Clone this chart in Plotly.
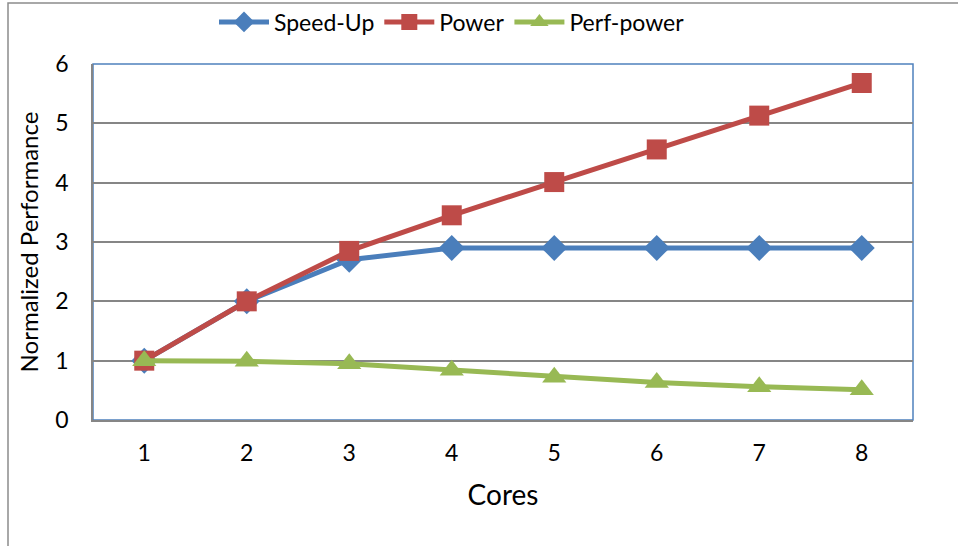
import plotly.graph_objects as go

cores = [1, 2, 3, 4, 5, 6, 7, 8]
speed_up = [1.0, 2.0, 2.7, 2.9, 2.9, 2.9, 2.9, 2.9]
power = [1.0, 2.0, 2.85, 3.45, 4.01, 4.56, 5.13, 5.68]
perf_power = [1.0, 0.99, 0.95, 0.84, 0.72, 0.63, 0.56, 0.51]
y_ticks = [0, 1, 2, 3, 4, 5, 6]

W, H = 958, 546
L, R, T, B = 93, 45, 64, 126
PW, PH = W - L - R, H - T - B

FONT = "Lato, Open Sans, sans-serif"

fig = go.Figure()
fig.add_trace(go.Scatter(
    x=cores, y=speed_up, name="Speed-Up", mode="lines+markers",
    line=dict(color="#4A7EBB", width=5),
    marker=dict(symbol="diamond", size=20, color="#4A7EBB"),
))
fig.add_trace(go.Scatter(
    x=cores, y=power, name="Power", mode="lines+markers",
    line=dict(color="#BE4B48", width=5),
    marker=dict(symbol="square", size=20, color="#BE4B48"),
))
fig.add_trace(go.Scatter(
    x=cores, y=perf_power, name="Perf-power", mode="lines+markers",
    line=dict(color="#98B954", width=5),
    marker=dict(symbol="triangle-up", size=21, color="#98B954"),
))

# plot-area frame (blue) drawn under the gray axis lines
fig.add_shape(type="rect", xref="paper", yref="paper", x0=0, y0=0, x1=1, y1=1,
              line=dict(color="#4F81BD", width=1.5), layer="below")
# outer chart frame (partly outside the visible area)
fig.add_shape(type="rect", xref="paper", yref="paper",
              x0=(8 - L) / PW, y0=-0.6, x1=1.3, y1=1 + (T - 3) / PH,
              line=dict(color="#8C8C8C", width=1.5), layer="below")

fig.update_layout(
    width=W, height=H,
    margin=dict(l=L, r=R, t=T, b=B, autoexpand=False),
    paper_bgcolor="white", plot_bgcolor="white",
    font=dict(family=FONT, size=23, color="black"),
    showlegend=True,
    legend=dict(orientation="h", x=(452 - L) / PW, xanchor="center",
                y=1 + (T - 22) / PH, yanchor="middle", font=dict(size=23),
                itemwidth=50, tracegroupgap=0, bgcolor="rgba(0,0,0,0)"),
    xaxis=dict(
        range=[0.5, 8.5], tickmode="array", tickvals=cores,
        ticktext=[str(c) for c in cores], showgrid=False, zeroline=False,
        showline=True, linecolor="#868686", linewidth=1.5, mirror=False,
        ticks="", ticklabelstandoff=12, tickfont=dict(size=23),
        title=dict(text="Cores", font=dict(size=28), standoff=20),
    ),
    yaxis=dict(
        range=[0, 6], tickmode="array", tickvals=y_ticks,
        ticktext=[str(v) for v in y_ticks], showgrid=True,
        gridcolor="#868686", gridwidth=1.5, zeroline=False,
        showline=True, linecolor="#868686", linewidth=1.5,
        ticks="", ticklabelstandoff=18, tickfont=dict(size=23),
        title=dict(text="Normalized Performance", font=dict(size=24), standoff=10),
    ),
)

fig.write_html("out.html")
